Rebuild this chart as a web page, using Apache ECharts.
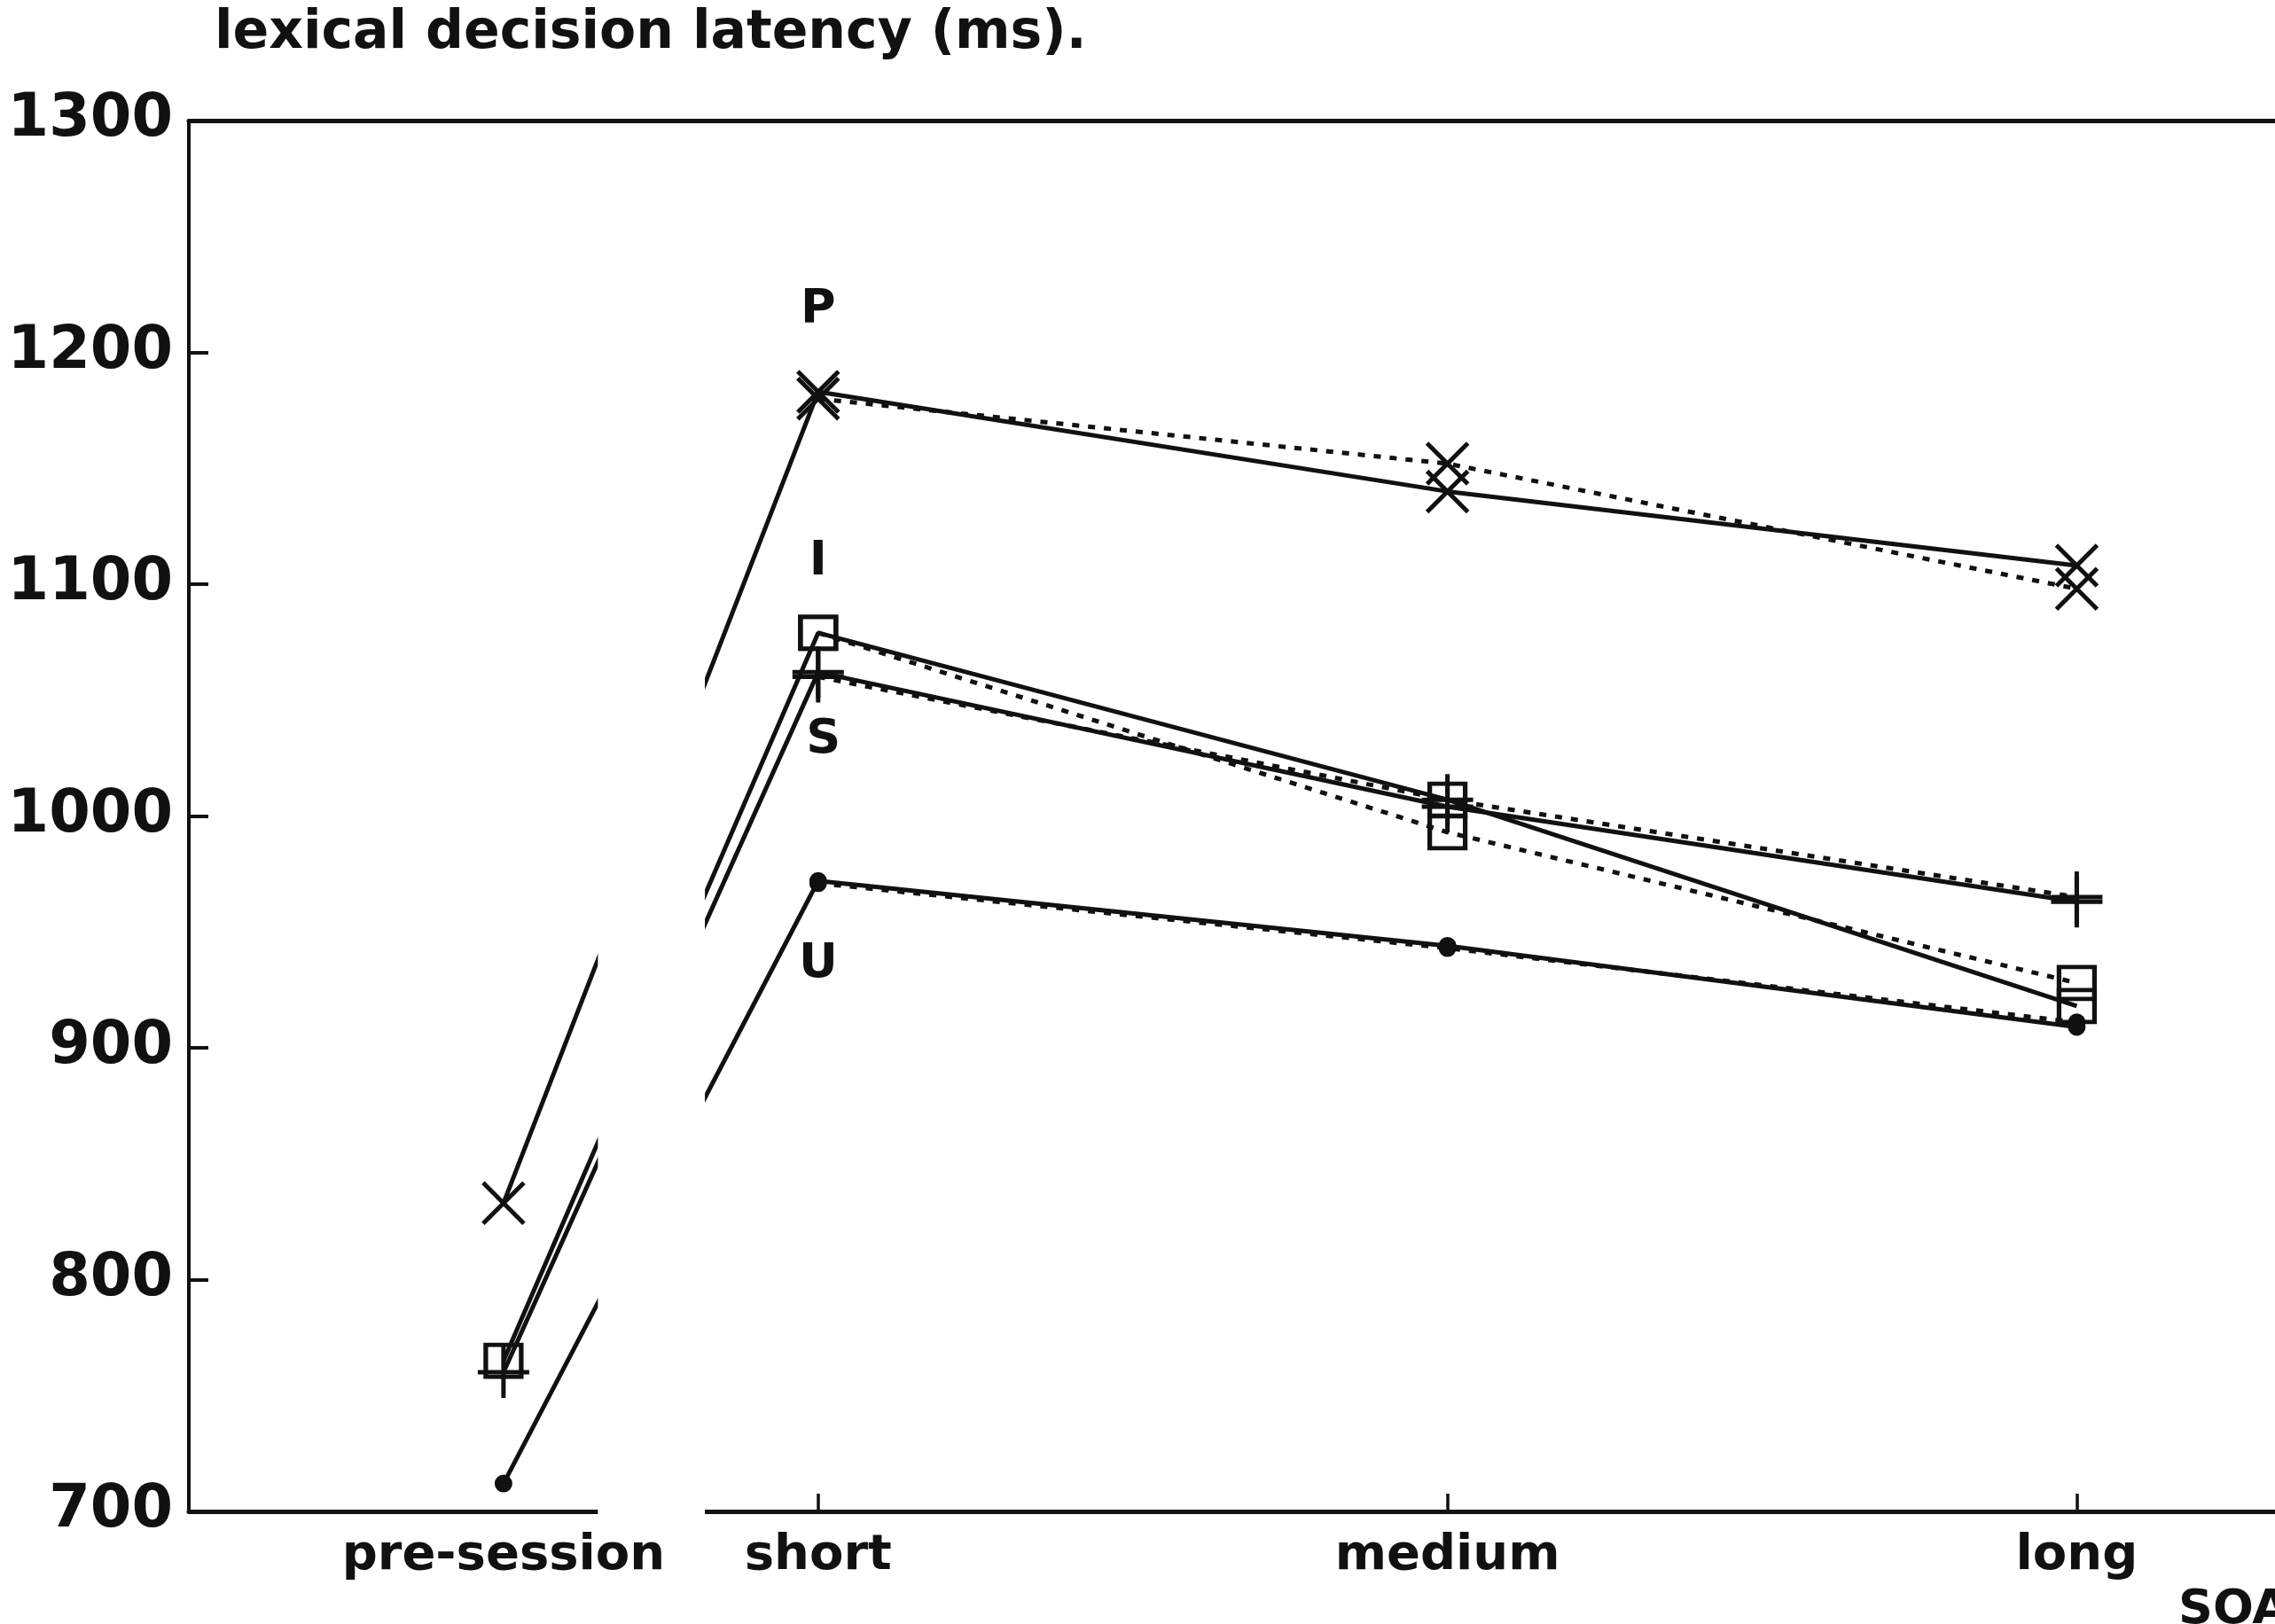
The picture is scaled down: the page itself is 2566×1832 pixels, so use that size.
<!DOCTYPE html>
<html>
<head>
<meta charset="utf-8">
<title>lexical decision latency</title>
<script src="https://cdn.jsdelivr.net/npm/echarts@6/dist/echarts.min.js"></script>
<style>
  html, body { margin: 0; padding: 0; background: #fff; }
  #main { width: 2566px; height: 1832px; }
</style>
</head>
<body>
<div id="main"></div>
<script>
// SOA conditions and their place on the x axis (pre-session sits half way)
var categories = ['pre-session', 'short', 'medium', 'long'];
var soaPos = [0.5, 1, 2, 3];

// latencies (ms), solid and dotted condition per prime type
var pSolid  = [833, 1183, 1140, 1108];
var pDashed = [null, 1180, 1152, 1098];
var iSolid  = [765, 1079, 1007, 918];
var iDashed = [null, 1079, 993, 928];
var sSolid  = [760, 1062, 1004, 963];
var sDashed = [null, 1060, 1007, 965];
var uSolid  = [712, 972, 944, 909];
var uDashed = [null, 971, 943, 911];

var groupNames = ['P', 'I', 'S', 'U'];

var INK = '#111';
var FONT = 'DejaVu Sans';

// marker looks + where the letter sits next to the "short" point
var looks = {
  P: { symbol: 'path://M0,0L20,20M20,0L0,20', size: 46, fill: 'none', offset: [0, -92] },
  I: { symbol: 'rect', size: [40, 36], fill: 'none', offset: [0, -80] },
  S: { symbol: 'path://M10,0L10,20M0,10L20,10', size: 58, fill: 'none', offset: [6, 77] },
  U: { symbol: 'circle', size: 15, fill: INK, offset: [0, 94] }
};
var solids = { P: pSolid, I: iSolid, S: sSolid, U: uSolid };
var dasheds = { P: pDashed, I: iDashed, S: sDashed, U: uDashed };

function pts(vals) {
  return soaPos.map(function (x, i) { return [x, vals[i]]; })
    .filter(function (p) { return p[1] != null; });
}

var series = [];
groupNames.forEach(function (g) {
  var lk = looks[g];
  series.push({
    name: g + ' dotted',
    type: 'line',
    data: pts(dasheds[g]),
    symbol: lk.symbol,
    symbolSize: lk.size,
    lineStyle: { color: INK, width: 5, type: [8, 10] },
    itemStyle: { color: lk.fill, borderColor: INK, borderWidth: 5 },
    z: 2
  });
  series.push({
    name: g,
    type: 'line',
    data: pts(solids[g]),
    symbol: lk.symbol,
    symbolSize: lk.size,
    lineStyle: { color: INK, width: 5, type: 'solid' },
    itemStyle: { color: lk.fill, borderColor: INK, borderWidth: 5 },
    label: {
      show: true,
      position: 'inside',
      offset: lk.offset,
      formatter: function (p) { return p.data[0] === 1 ? g : ''; },
      fontFamily: FONT, fontWeight: 'bold', fontSize: 54, color: INK
    },
    z: 3
  });
});

var chart = echarts.init(document.getElementById('main'));
chart.setOption({
  animation: false,
  backgroundColor: '#fff',
  grid: { left: 213, right: 0, top: 136, bottom: 127 },
  xAxis: [{
    type: 'value',
    min: 0, max: 3.315,
    position: 'bottom',
    axisLine: { show: true, lineStyle: { color: INK, width: 5 } },
    axisTick: { show: true, inside: true, length: 20, lineStyle: { color: INK, width: 3.5 }, customValues: [1, 2, 3] },
    axisLabel: {
      customValues: soaPos,
      formatter: function (v) { return categories[soaPos.indexOf(v)] || ''; },
      fontFamily: FONT, fontWeight: 'bold', fontSize: 56, color: INK, margin: 22
    },
    splitLine: { show: false }
  }, {
    type: 'value',
    min: 0, max: 3.315,
    position: 'top',
    axisLine: { show: true, lineStyle: { color: INK, width: 5 } },
    axisTick: { show: false },
    axisLabel: { show: false },
    splitLine: { show: false }
  }],
  yAxis: {
    type: 'value',
    min: 700, max: 1300, interval: 100,
    axisLine: { show: true, lineStyle: { color: INK, width: 4 } },
    axisTick: { show: true, inside: true, length: 22, lineStyle: { color: INK, width: 4 } },
    axisLabel: {
      formatter: function (v) { return String(v); },
      fontFamily: FONT, fontWeight: 'bold', fontSize: 67, color: INK, margin: 18
    },
    splitLine: { show: false }
  },
  series: series
});

// break in the x axis and the connecting lines between pre-session and short
var a = chart.convertToPixel({ gridIndex: 0 }, [0.65, 1300]);
var b = chart.convertToPixel({ gridIndex: 0 }, [0.82, 700]);
chart.setOption({
  graphic: [{
    type: 'rect', z: 100,
    shape: { x: a[0], y: a[1] + 7, width: b[0] - a[0], height: b[1] - a[1] },
    style: { fill: '#fff' }
  }, {
    type: 'text', z: 101,
    style: { x: 242, y: 38, text: 'lexical decision latency (ms).', verticalAlign: 'middle',
      font: 'bold 60px "DejaVu Sans"', fill: INK }
  }, {
    type: 'text', z: 101,
    style: { x: 2457, y: 1790, text: 'SOA', verticalAlign: 'top',
      font: 'bold 54px "DejaVu Sans"', fill: INK }
  }]
});
</script>
</body>
</html>
